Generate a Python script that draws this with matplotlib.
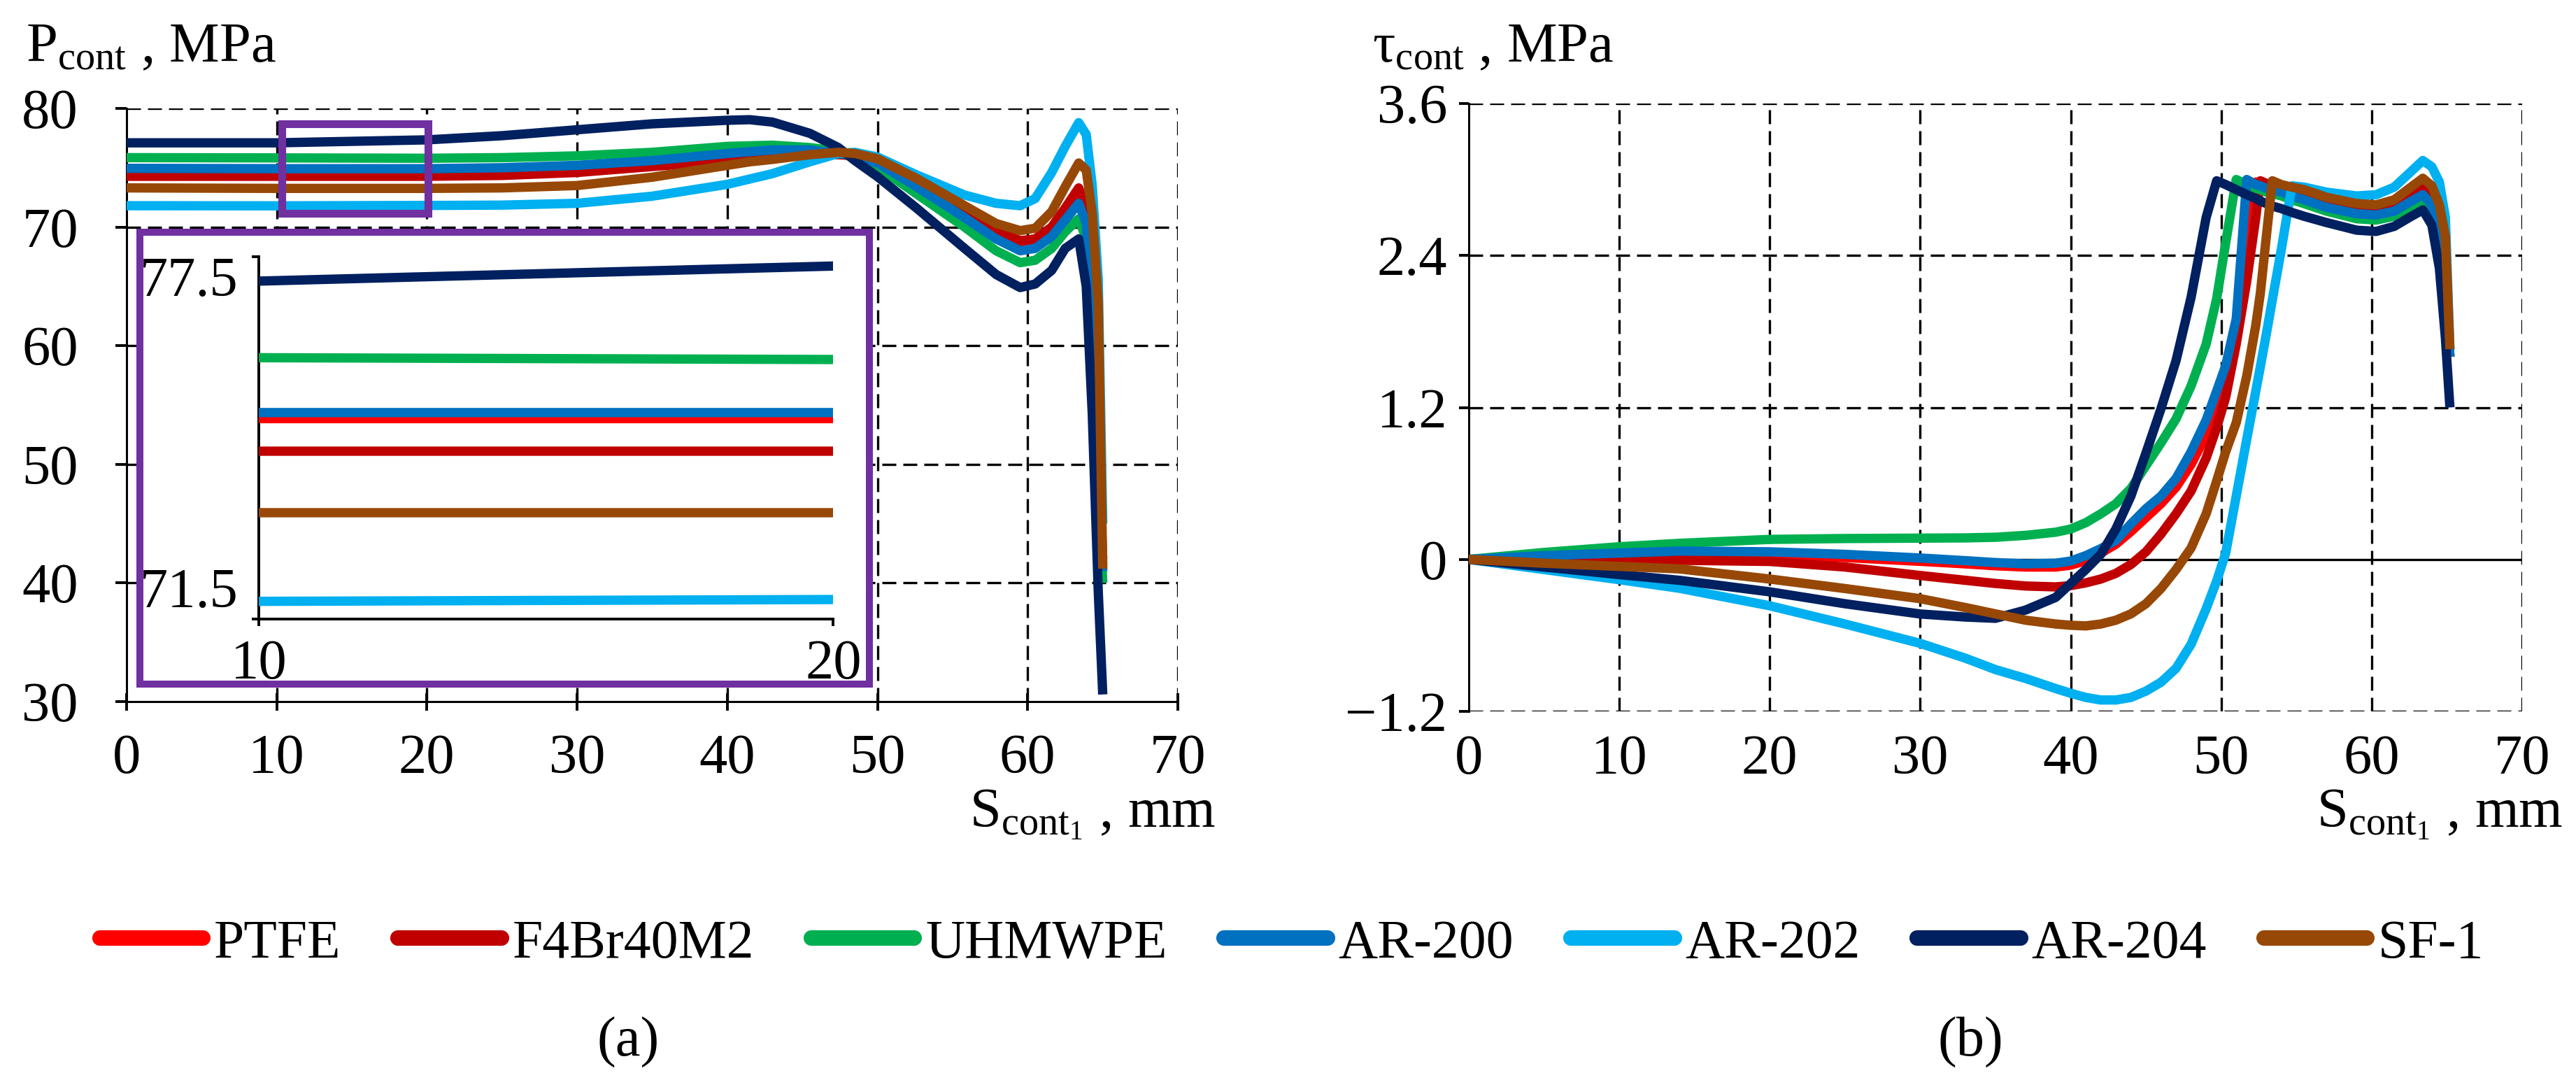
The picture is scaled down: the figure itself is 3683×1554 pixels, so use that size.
import matplotlib

matplotlib.use("Agg")
import matplotlib.pyplot as plt
from matplotlib.lines import Line2D
from matplotlib.patches import Rectangle

plt.rcParams["font.family"] = ["Liberation Serif", "DejaVu Serif"]
plt.rcParams["mathtext.fontset"] = "custom"
plt.rcParams["mathtext.rm"] = "Liberation Serif"
plt.rcParams["mathtext.it"] = "Liberation Serif:italic"

# ---- data ----
MATERIALS = ["PTFE", "F4Br40M2", "UHMWPE", "AR-200", "AR-202", "AR-204", "SF-1"]
COLORS = ["#FF0000", "#C00000", "#00B050", "#0070C0", "#00B0F0", "#002060", "#974806"]

# contact pressure P_cont, MPa
X_P = [0, 10, 20, 25, 30, 35, 40, 41.5, 43, 45.5, 47.4, 48.5, 50, 52.6, 55.8, 57.9, 59.5,
       60.5, 61.6, 62.5, 63.4, 63.9, 64.3, 64.7, 65.0]
P_PTFE = [74.82, 74.82, 74.82, 74.9, 75.1, 75.5, 76.0, 76.15, 76.3, 76.35, 76.2, 76.0, 75.5,
          73.6, 71.0, 69.3, 68.4, 68.6, 69.6, 71.1, 72.6, 70.9, 63.5, 51.0, 41.5]
P_F4 = [74.28, 74.28, 74.28, 74.35, 74.6, 75.1, 75.6, 75.8, 75.95, 76.1, 76.1, 76.0, 75.6,
        73.8, 71.3, 69.7, 68.85, 69.0, 70.0, 71.6, 73.3, 71.6, 64.0, 52.0, 42.0]
P_UHMWPE = [75.85, 75.83, 75.8, 75.85, 76.0, 76.3, 76.8, 76.85, 76.9, 76.7, 76.4, 76.0, 75.1,
            72.8, 70.0, 68.0, 67.0, 67.2, 68.2, 69.6, 70.7, 69.0, 62.0, 50.0, 40.0]
P_AR200 = [74.95, 74.92, 74.92, 75.0, 75.2, 75.6, 76.2, 76.35, 76.5, 76.5, 76.2, 76.0, 75.4,
           73.4, 70.8, 69.0, 68.0, 68.2, 69.2, 70.6, 72.0, 70.3, 63.0, 50.0, 41.0]
P_AR202 = [71.8, 71.79, 71.82, 71.85, 72.0, 72.6, 73.6, 74.05, 74.5, 75.5, 76.2, 76.3, 75.9,
           74.4, 72.7, 72.0, 71.8, 72.4, 74.6, 76.8, 78.8, 77.8, 73.5, 65.6, 45.0]
P_AR204 = [77.1, 77.1, 77.35, 77.7, 78.2, 78.7, 79.0, 79.05, 78.85, 77.9, 76.7, 75.6, 74.25,
           71.6, 68.2, 66.0, 64.9, 65.2, 66.35, 68.2, 69.0, 65.0, 54.3, 39.3, 30.6]
P_SF1 = [73.3, 73.26, 73.26, 73.3, 73.5, 74.2, 75.2, 75.5, 75.7, 76.1, 76.3, 76.2, 75.75,
         74.1, 71.8, 70.3, 69.7, 69.9, 71.3, 73.4, 75.4, 74.8, 71.2, 63.7, 41.2]

# contact shear stress tau_cont, MPa
X_TAU = [0, 5, 10, 14, 20, 25, 30, 33, 35, 37,
         39, 40, 41, 42, 43, 44, 45, 46, 47, 48,
         49, 49.7, 50.3, 51.0, 51.7, 52.3, 52.6, 53.0, 53.4, 54.0,
         54.7, 55.5, 57, 59, 60.3, 61.5, 62.5, 63.4, 64.0, 64.5,
         64.9, 65.2]
TAU_PTFE = [0, 0.02, 0.03, 0.04, 0.035, 0.015, -0.015, -0.035, -0.05, -0.06,
            -0.06, -0.045, -0.01, 0.05, 0.12, 0.22, 0.33, 0.44, 0.57, 0.75,
            0.98, 1.18, 1.4, 1.72, 2.3, 2.98, 2.97, 2.95, 2.94, 2.92,
            2.89, 2.86, 2.80, 2.75, 2.74, 2.77, 2.85, 2.91, 2.83, 2.53,
            2.15, 1.6]
TAU_F4 = [0, 0.0, -0.003, -0.007, -0.016, -0.06, -0.127, -0.165, -0.19, -0.21,
          -0.217, -0.207, -0.185, -0.155, -0.11, -0.04, 0.06, 0.2, 0.36, 0.54,
          0.8, 1.04, 1.28, 1.7, 2.2, 2.7, 2.99, 2.97, 2.96, 2.94,
          2.91, 2.88, 2.82, 2.77, 2.76, 2.79, 2.87, 2.94, 2.86, 2.58,
          2.2, 1.6]
TAU_UHMWPE = [0, 0.055, 0.1, 0.127, 0.158, 0.165, 0.168, 0.17, 0.175, 0.19,
              0.215, 0.24, 0.29, 0.36, 0.44, 0.56, 0.74, 0.92, 1.11, 1.37,
              1.7, 2.06, 2.5, 3.0, 2.96, 2.93, 2.92, 2.9, 2.89, 2.87,
              2.84, 2.81, 2.75, 2.69, 2.68, 2.71, 2.77, 2.82, 2.72, 2.45,
              2.0, 1.6]
TAU_AR200 = [0, 0.03, 0.05, 0.066, 0.06, 0.04, 0.011, -0.01, -0.025, -0.035,
             -0.03, -0.013, 0.03, 0.085, 0.15, 0.28, 0.4, 0.5, 0.64, 0.85,
             1.1, 1.33, 1.53, 1.9, 3.0, 2.96, 2.95, 2.93, 2.92, 2.9,
             2.87, 2.84, 2.78, 2.73, 2.72, 2.75, 2.82, 2.88, 2.8, 2.5,
             2.1, 1.6]
TAU_AR202 = [0, -0.08, -0.16, -0.228, -0.366, -0.51, -0.663, -0.78, -0.87, -0.94,
             -1.02, -1.057, -1.09, -1.11, -1.11, -1.09, -1.04, -0.97, -0.86, -0.67,
             -0.39, -0.17, 0.05, 0.5, 0.95, 1.33, 1.52, 1.78, 2.05, 2.45,
             2.95, 2.94, 2.9, 2.87, 2.88, 2.94, 3.05, 3.15, 3.1, 2.98,
             2.7, 1.66]
TAU_AR204 = [0, -0.06, -0.12, -0.165, -0.256, -0.35, -0.431, -0.455, -0.465, -0.4,
             -0.3, -0.19, -0.08, 0.04, 0.24, 0.5, 0.84, 1.19, 1.57, 2.07,
             2.7, 2.99, 2.96, 2.92, 2.88, 2.85, 2.83, 2.81, 2.79, 2.77,
             2.74, 2.71, 2.66, 2.6, 2.59, 2.63, 2.70, 2.76, 2.64, 2.3,
             1.75, 1.2]
TAU_SF1 = [0, -0.03, -0.055, -0.075, -0.155, -0.23, -0.31, -0.38, -0.43, -0.48,
           -0.51, -0.52, -0.525, -0.51, -0.48, -0.43, -0.35, -0.23, -0.08, 0.09,
           0.36, 0.62, 0.85, 1.08, 1.45, 1.85, 2.1, 2.55, 2.99, 2.96,
           2.94, 2.92, 2.86, 2.81, 2.80, 2.84, 2.93, 3.01, 2.95, 2.8,
           2.55, 1.66]

P_SERIES = [P_PTFE, P_F4, P_UHMWPE, P_AR200, P_AR202, P_AR204, P_SF1]
TAU_SERIES = [TAU_PTFE, TAU_F4, TAU_UHMWPE, TAU_AR200, TAU_AR202, TAU_AR204, TAU_SF1]

X_TICKS = [0, 10, 20, 30, 40, 50, 60, 70]
P_TICKS = [30, 40, 50, 60, 70, 80]
TAU_TICKS = [-1.2, 0, 1.2, 2.4, 3.6]
TAU_TICK_LABELS = ["\u22121.2", "0", "1.2", "2.4", "3.6"]
INSET_X = [10, 20]
INSET_Y = [71.5, 77.5]
ZOOM_BOX = (10.37, 71.18, 9.73, 7.52)  # x, y, width, height in P axes data

# ---- style ----
PURPLE = "#7030A0"
LW = 4.8
GRID_LS = (0, (6, 3))
GRID_LW = 1.2
TICK_FS = 29

fig = plt.figure(figsize=(18.415, 7.77), dpi=200)


def _dashed_grid(ax, xs, ys):
    for x in xs:
        ax.axvline(x, color="black", lw=GRID_LW, ls=GRID_LS, zorder=1)
    for y in ys:
        ax.axhline(y, color="black", lw=GRID_LW, ls=GRID_LS, zorder=1)


# ---- (a) contact pressure ----
ax1 = fig.add_axes([0.04909, 0.35457, 0.40815, 0.54569])
ax1.set_xlim(0, 70)
ax1.set_ylim(30, 80)
_dashed_grid(ax1, X_TICKS[1:], P_TICKS[1:])
for ys, c in zip(P_SERIES, COLORS):
    ax1.plot(X_P, ys, color=c, lw=LW, solid_capstyle="butt", solid_joinstyle="round", zorder=3)
ax1.add_patch(Rectangle(ZOOM_BOX[:2], ZOOM_BOX[2], ZOOM_BOX[3], fill=False,
                        edgecolor=PURPLE, lw=4.0, zorder=5))
ax1.set_xticks(X_TICKS)
ax1.set_yticks(P_TICKS)
for s in ("top", "right"):
    ax1.spines[s].set_visible(False)
for s in ("left", "bottom"):
    ax1.spines[s].set_linewidth(1.1)
ax1.tick_params(axis="y", direction="out", length=5.8, width=1.4, labelsize=TICK_FS, pad=19)
ax1.tick_params(axis="x", direction="inout", length=9, width=1.4, labelsize=TICK_FS, pad=12)

# inset frame + zoomed axes
ax_box = fig.add_axes([0.0543, 0.37066, 0.2832, 0.4157])
ax_box.set_xticks([])
ax_box.set_yticks([])
for s in ax_box.spines.values():
    s.set_edgecolor(PURPLE)
    s.set_linewidth(3.6)

ax_in = fig.add_axes([0.10041, 0.43070, 0.2231, 0.33288])
ax_in.patch.set_alpha(0)
ax_in.set_xlim(*INSET_X)
ax_in.set_ylim(*INSET_Y)
for ys, c in zip(P_SERIES, COLORS):
    ax_in.plot(X_P, ys, color=c, lw=LW, solid_capstyle="butt", zorder=3)
ax_in.set_xticks(INSET_X)
ax_in.set_yticks(INSET_Y)
ax_in.set_yticklabels([f"{v:g}" for v in INSET_Y])
for s in ("top", "right"):
    ax_in.spines[s].set_visible(False)
for s in ("left", "bottom"):
    ax_in.spines[s].set_linewidth(1.4)
ax_in.tick_params(axis="both", direction="out", length=3.5, width=1.4, labelsize=TICK_FS, pad=7)
lbls = ax_in.get_yticklabels()
lbls[0].set_verticalalignment("bottom")
lbls[1].set_verticalalignment("top")

# ---- (b) contact shear stress ----
ax2 = fig.add_axes([0.57019, 0.34556, 0.4089, 0.5592])
ax2.set_xlim(0, 70)
ax2.set_ylim(-1.2, 3.6)
_dashed_grid(ax2, X_TICKS[1:], [-1.2, 1.2, 2.4, 3.6])
ax2.axhline(0, color="black", lw=1.2, zorder=2)
for ys, c in zip(TAU_SERIES, COLORS):
    ax2.plot(X_TAU, ys, color=c, lw=LW, solid_capstyle="butt", solid_joinstyle="round", zorder=3)
ax2.set_xticks(X_TICKS)
ax2.set_yticks(TAU_TICKS)
ax2.set_yticklabels(TAU_TICK_LABELS)
for s in ("top", "right", "bottom"):
    ax2.spines[s].set_visible(False)
ax2.spines["left"].set_linewidth(1.1)
ax2.tick_params(axis="y", direction="out", length=5, width=1.4, labelsize=TICK_FS, pad=6)
ax2.tick_params(axis="x", length=0, labelsize=TICK_FS, pad=12)

# ---- axis titles ----
fig.text(0.01, 0.9434, r"P$_{\mathrm{cont}}$ , MPa", fontsize=TICK_FS, ha="left", va="baseline")
fig.text(0.5327, 0.9434, r"τ$_{\mathrm{cont}}$ , MPa", fontsize=TICK_FS, ha="left", va="baseline")
fig.text(0.4719, 0.2395, r"S$_{\mathrm{cont}_1}$ , mm", fontsize=TICK_FS, ha="right", va="baseline")
fig.text(0.9948, 0.2395, r"S$_{\mathrm{cont}_1}$ , mm", fontsize=TICK_FS, ha="right", va="baseline")

# ---- legend ----
handles = [Line2D([], [], color=c, lw=8, solid_capstyle="round") for c in COLORS]
fig.legend(handles, MATERIALS, loc="center", bbox_to_anchor=(0.5015, 0.1313), ncol=7,
           frameon=False, fontsize=28, handlelength=1.9, handletextpad=0.2,
           columnspacing=1.05)

fig.text(0.2438, 0.0412, "(a)", fontsize=TICK_FS, ha="center", va="center")
fig.text(0.7649, 0.0412, "(b)", fontsize=TICK_FS, ha="center", va="center")

fig.savefig("out.png", dpi=200)
